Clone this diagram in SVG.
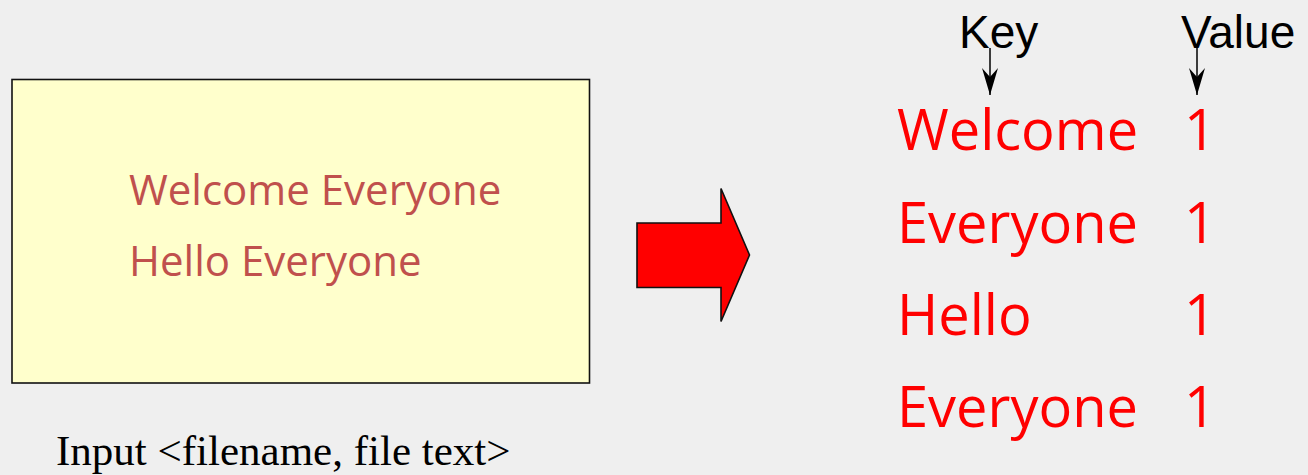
<svg xmlns="http://www.w3.org/2000/svg" width="1308" height="475" viewBox="0 0 1308 475">
<style>
.bg{fill:#efefef}
.box{fill:#ffffcc;stroke:#111;stroke-width:1.6}
.intext{font-family:"Open Sans","Noto Sans",sans-serif;font-size:42px;fill:#c0504d}
.kv{font-family:"Open Sans","Noto Sans",sans-serif;font-size:56px;fill:#ff0000}
.hdr{font-family:"Liberation Sans",Arial,sans-serif;font-size:46px;fill:#000}
.cap{font-family:"Liberation Serif","Times New Roman",serif;font-size:43px;fill:#000}
.conn{stroke:#000;stroke-width:1.5;fill:none}
.bigarrow{fill:#ff0000;stroke:#111;stroke-width:1.6;stroke-linejoin:miter}
</style>
<defs>
<marker id="ah" markerUnits="userSpaceOnUse" markerWidth="30" markerHeight="20" refX="27" refY="10" orient="auto" viewBox="0 0 30 20">
<path d="M0,2 L27,10 L0,18 L9,10 Z" fill="#000"/>
</marker>
</defs>
<rect class="bg" x="0" y="0" width="1308" height="475"/>
<g id="input-box">
<rect class="box" x="12" y="79.5" width="577.5" height="303.5"/>
<text class="intext" x="129" y="205">Welcome Everyone</text>
<text class="intext" x="129" y="276">Hello Everyone</text>
</g>
<g id="input-caption">
<text class="cap" x="56" y="465">Input &lt;filename, file text&gt;</text>
</g>
<g id="map-arrow">
<path class="bigarrow" d="M637,223 L721,223 L721,188.5 L749.5,255 L721,321.5 L721,287.5 L637,287.5 Z"/>
</g>
<g id="key-header">
<text class="hdr" x="959" y="48">Key</text>
</g>
<g id="value-header">
<text class="hdr" x="1181" y="48">Value</text>
</g>
<g id="pairs">
<text class="kv" x="897" y="150">Welcome</text>
<text class="kv" x="1184" y="150">1</text>
<text class="kv" x="897" y="243">Everyone</text>
<text class="kv" x="1184" y="243">1</text>
<text class="kv" x="897" y="335">Hello</text>
<text class="kv" x="1184" y="335">1</text>
<text class="kv" x="897" y="427">Everyone</text>
<text class="kv" x="1184" y="427">1</text>
</g>
<g id="connectors">
<line class="conn" x1="990" y1="48" x2="990" y2="95" marker-end="url(#ah)"/>
<line class="conn" x1="1197" y1="48" x2="1197" y2="95" marker-end="url(#ah)"/>
</g>
</svg>
